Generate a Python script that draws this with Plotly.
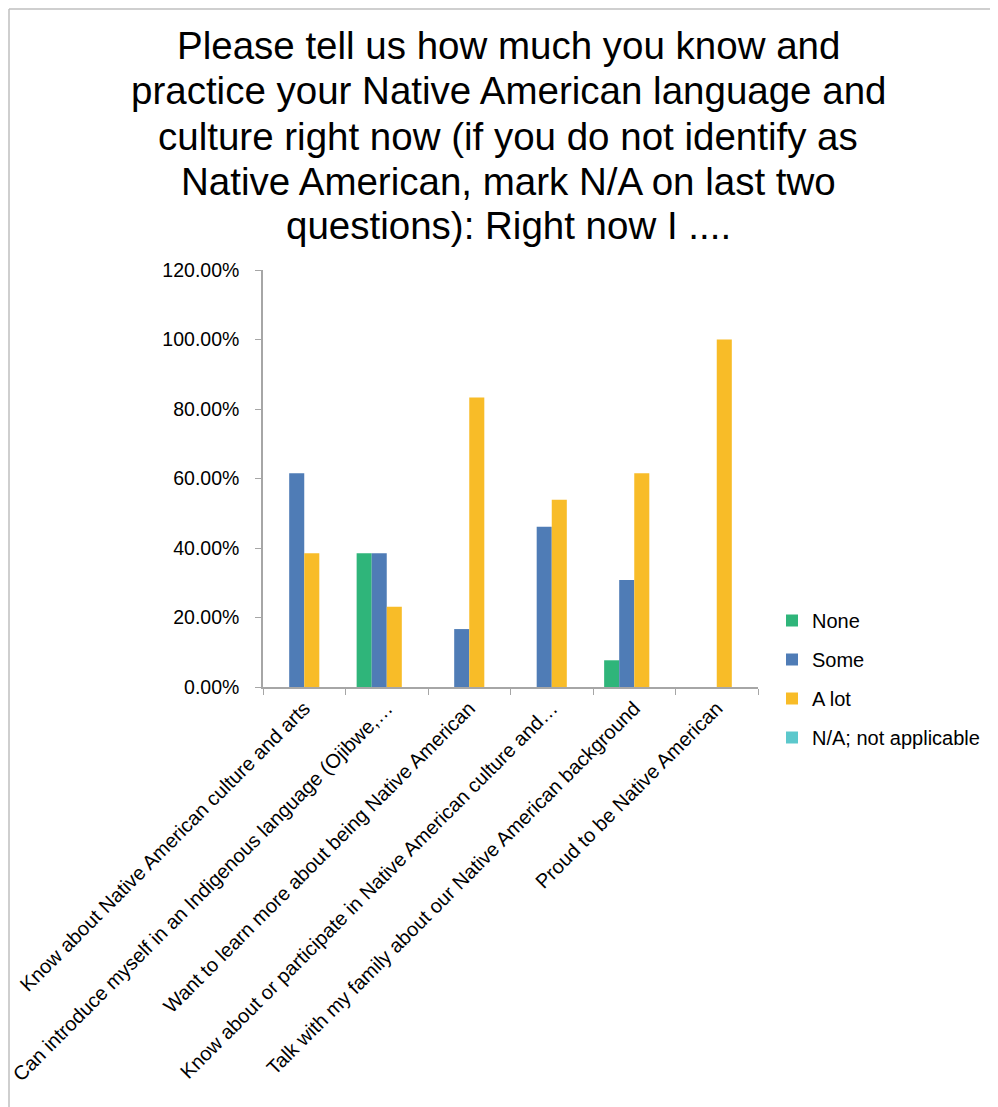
import plotly.graph_objects as go

categories = [
    "Know about Native American culture and arts",
    "Can introduce myself in an Indigenous language (Ojibwe,…",
    "Want to learn more about being Native American",
    "Know about or participate in Native American culture and…",
    "Talk with my family about our Native American background",
    "Proud to be Native American",
]
series_names = ["None", "Some", "A lot", "N/A; not applicable"]
none_vals = [0.0, 0.3846, 0.0, 0.0, 0.0769, 0.0]
some_vals = [0.6154, 0.3846, 0.1667, 0.4615, 0.3077, 0.0]
alot_vals = [0.3846, 0.2308, 0.8333, 0.5385, 0.6154, 1.0]
na_vals = [0.0, 0.0, 0.0, 0.0, 0.0, 0.0]
y_ticks = [0.0, 0.2, 0.4, 0.6, 0.8, 1.0, 1.2]

title_lines = [
    "Please tell us how much you know and",
    "practice your Native American language and",
    "culture right now (if you do not identify as",
    "Native American, mark N/A on last two",
    "questions): Right now I ....",
]

colors = ["#2FB57A", "#4F7CB6", "#F8BC28", "#5CC8CC"]
values = [none_vals, some_vals, alot_vals, na_vals]

# page body offset of 8px is accounted for: screen coords -> figure coords
OFF = 8
W, H = 998, 1107
plot_left, plot_right, plot_top, plot_bottom = 263 - OFF, 758 - OFF, 270 - OFF, 687 - OFF
L, R, T, B = plot_left, W - plot_right, plot_top, H - plot_bottom

pw = W - L - R
ph = H - T - B
def px_x(sx):
    return (sx - OFF - L) / pw
def px_y(sy):
    return (H - B - (sy - OFF)) / ph

font_main = "Liberation Sans, Arial, sans-serif"

fig = go.Figure()
for name, vals, col in zip(series_names, values, colors):
    fig.add_trace(go.Bar(
        x=categories, y=vals, name=name, legendgroup=name,
        marker=dict(color=col, line=dict(width=0)),
    ))

title_centers = [45, 90, 136, 181, 225]
annotations = [
    dict(text=t, xref="paper", yref="paper", x=px_x(508), y=px_y(cy),
         xanchor="center", yanchor="middle", showarrow=False,
         font=dict(size=38.5, family=font_main, color="#000000"))
    for t, cy in zip(title_lines, title_centers)
]

fig.update_layout(
    width=W, height=H,
    margin=dict(l=L, r=R, t=T, b=B, autoexpand=False),
    paper_bgcolor="white", plot_bgcolor="white",
    barmode="group", bargap=0.27, bargroupgap=0,
    font=dict(family=font_main, color="#000000", size=19),
    annotations=annotations,
    legend=dict(x=px_x(772), xanchor="left", y=px_y(601), yanchor="top",
                font=dict(size=20, family=font_main, color="#000000"),
                tracegroupgap=10, bgcolor="rgba(0,0,0,0)"),
    xaxis=dict(showline=True, linecolor="#A6A6A6", linewidth=1.5,
               ticks="outside", tickson="boundaries", ticklen=6, tickcolor="#A6A6A6",
               tickangle=-45, tickfont=dict(size=20, family=font_main, color="#000000"),
               showgrid=False, automargin=False),
    yaxis=dict(range=[0, 1.2], tickvals=y_ticks, tickformat=".2%",
               showline=True, linecolor="#A6A6A6", linewidth=1.5,
               ticks="outside", ticklen=6, tickcolor="#A6A6A6",
               ticklabelstandoff=12,
               tickfont=dict(size=19.5, family=font_main, color="#000000"),
               showgrid=False, zeroline=False, automargin=False),
    shapes=[
        dict(type="line", xref="paper", yref="paper", x0=px_x(9), x1=px_x(9),
             y0=px_y(H + 30), y1=px_y(9), line=dict(color="#BFBFBF", width=1.5)),
        dict(type="line", xref="paper", yref="paper", x0=px_x(9), x1=px_x(W + 30),
             y0=px_y(9), y1=px_y(9), line=dict(color="#BFBFBF", width=1.5)),
    ],
)

fig.write_html("out.html")
